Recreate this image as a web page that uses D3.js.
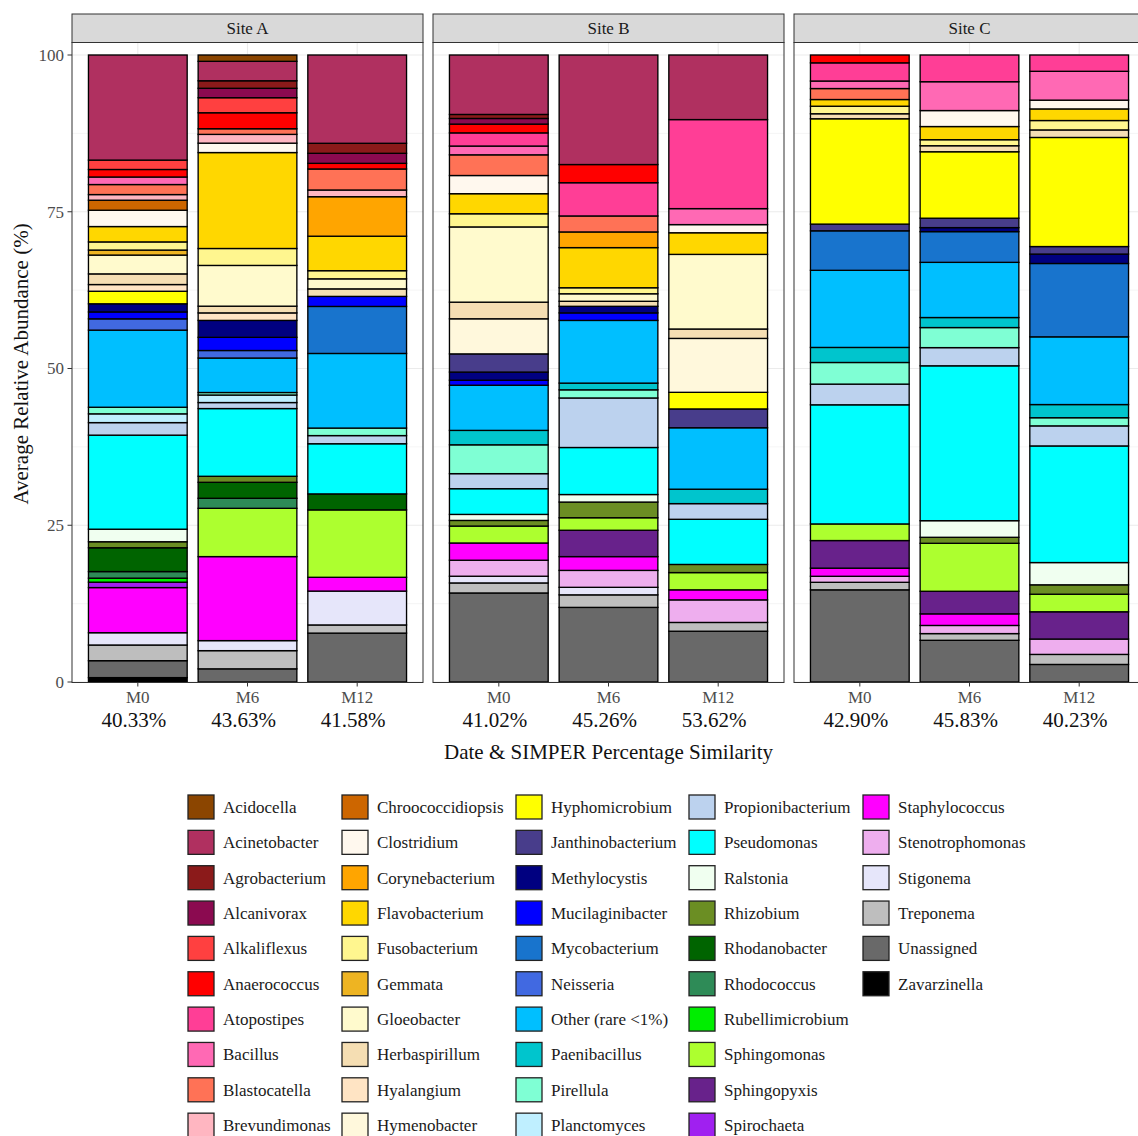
<!DOCTYPE html>
<html>
<head>
<meta charset="utf-8">
<script src="https://cdn.jsdelivr.net/npm/d3@7"></script>
<style>
  body { margin: 0; background: #fff; }
  text { font-family: "Liberation Serif", "Times New Roman", serif; }
</style>
</head>
<body>
<svg id="chart" width="1138" height="1136"></svg>
<script>
// Genera in legend / stacking order (first = top of each bar)
const taxa = [
  "Acidocella", "Acinetobacter", "Agrobacterium", "Alcanivorax", "Alkaliflexus",
  "Anaerococcus", "Atopostipes", "Bacillus", "Blastocatella", "Brevundimonas",
  "Chroococcidiopsis", "Clostridium", "Corynebacterium", "Flavobacterium", "Fusobacterium",
  "Gemmata", "Gloeobacter", "Herbaspirillum", "Hyalangium", "Hymenobacter",
  "Hyphomicrobium", "Janthinobacterium", "Methylocystis", "Mucilaginibacter", "Mycobacterium",
  "Neisseria", "Other (rare <1%)", "Paenibacillus", "Pirellula", "Planctomyces",
  "Propionibacterium", "Pseudomonas", "Ralstonia", "Rhizobium", "Rhodanobacter",
  "Rhodococcus", "Rubellimicrobium", "Sphingomonas", "Sphingopyxis", "Spirochaeta",
  "Staphylococcus", "Stenotrophomonas", "Stigonema", "Treponema", "Unassigned",
  "Zavarzinella"
];

const taxonColors = [
  "#8B4500", "#B03060", "#8B1A1A", "#8B0A50", "#FF4040",
  "#FF0000", "#FF3E96", "#FF69B4", "#FF7256", "#FFB6C1",
  "#CD6600", "#FFF8EE", "#FFA500", "#FFD700", "#FFF68F",
  "#EEB422", "#FFFACD", "#F5DEB3", "#FFE4C4", "#FFF8DC",
  "#FFFF00", "#483D8B", "#000080", "#0000FF", "#1874CD",
  "#4169E1", "#00BFFF", "#00C5CD", "#7FFFD4", "#BFEFFF",
  "#BCD2EE", "#00FFFF", "#F0FFF0", "#6B8E23", "#006400",
  "#2E8B57", "#00EE00", "#ADFF2F", "#68228B", "#A020F0",
  "#FF00FF", "#EEAEEE", "#E6E6FA", "#BEBEBE", "#696969",
  "#000000"
];

const sites = ["Site A", "Site B", "Site C"];
const months = ["M0", "M6", "M12"];
const yTicks = [0, 25, 50, 75, 100];

// SIMPER percentage similarity per site, by month
const similarityA = ["40.33%", "43.63%", "41.58%"];
const similarityB = ["41.02%", "45.26%", "53.62%"];
const similarityC = ["42.90%", "45.83%", "40.23%"];

// Average relative abundance (%) per site and month
const siteA_M0 = {
  "Acinetobacter": 16.76, "Alkaliflexus": 1.5, "Anaerococcus": 1.2, "Bacillus": 1.2,
  "Blastocatella": 1.6, "Brevundimonas": 0.9, "Chroococcidiopsis": 1.6, "Clostridium": 2.6,
  "Flavobacterium": 2.45, "Fusobacterium": 1.3, "Gemmata": 0.8, "Gloeobacter": 3.0,
  "Herbaspirillum": 1.7, "Hyalangium": 1.07, "Hyphomicrobium": 2.0, "Methylocystis": 1.3,
  "Mucilaginibacter": 1.1, "Neisseria": 1.8, "Other (rare <1%)": 12.3, "Pirellula": 1.05,
  "Planctomyces": 1.4, "Propionibacterium": 2.0, "Pseudomonas": 15.0, "Ralstonia": 2.0,
  "Rhizobium": 0.96, "Rhodanobacter": 3.8, "Rhodococcus": 1.05, "Rubellimicrobium": 0.64,
  "Spirochaeta": 0.86, "Staphylococcus": 7.2, "Stigonema": 1.96, "Treponema": 2.5,
  "Unassigned": 2.7, "Zavarzinella": 0.7
};
const siteA_M6 = {
  "Acidocella": 1.01, "Acinetobacter": 3.1, "Agrobacterium": 1.2, "Alcanivorax": 1.5,
  "Alkaliflexus": 2.4, "Anaerococcus": 2.55, "Blastocatella": 0.9, "Brevundimonas": 1.4,
  "Clostridium": 1.5, "Flavobacterium": 15.3, "Fusobacterium": 2.7, "Gloeobacter": 6.5,
  "Herbaspirillum": 1.07, "Hyalangium": 1.2, "Methylocystis": 2.7, "Mucilaginibacter": 2.1,
  "Neisseria": 1.2, "Other (rare <1%)": 5.5, "Pirellula": 0.4, "Planctomyces": 1.2,
  "Propionibacterium": 0.96, "Pseudomonas": 10.8, "Rhizobium": 0.96, "Rhodanobacter": 2.55,
  "Rhodococcus": 1.6, "Sphingomonas": 7.7, "Staphylococcus": 13.4, "Stigonema": 1.6,
  "Treponema": 2.9, "Unassigned": 2.1
};
const siteA_M12 = {
  "Acinetobacter": 14.08, "Agrobacterium": 1.6, "Alcanivorax": 1.6, "Anaerococcus": 0.9,
  "Blastocatella": 3.35, "Brevundimonas": 1.07, "Corynebacterium": 6.3, "Flavobacterium": 5.5,
  "Fusobacterium": 1.3, "Gloeobacter": 1.6, "Herbaspirillum": 1.2, "Mucilaginibacter": 1.6,
  "Mycobacterium": 7.5, "Other (rare <1%)": 11.9, "Pirellula": 1.2, "Propionibacterium": 1.3,
  "Pseudomonas": 8.0, "Rhodanobacter": 2.55, "Sphingomonas": 10.75, "Staphylococcus": 2.2,
  "Stigonema": 5.4, "Treponema": 1.3, "Unassigned": 7.8
};
const siteB_M0 = {
  "Acinetobacter": 9.48, "Agrobacterium": 0.64, "Alcanivorax": 0.9, "Anaerococcus": 1.4,
  "Atopostipes": 2.1, "Bacillus": 1.4, "Blastocatella": 3.3, "Clostridium": 2.9,
  "Flavobacterium": 3.2, "Fusobacterium": 2.1, "Gloeobacter": 12.0, "Herbaspirillum": 2.65,
  "Hymenobacter": 5.6, "Janthinobacterium": 2.9, "Methylocystis": 1.3, "Mucilaginibacter": 0.8,
  "Other (rare <1%)": 7.2, "Paenibacillus": 2.3, "Pirellula": 4.6, "Propionibacterium": 2.4,
  "Pseudomonas": 4.1, "Ralstonia": 0.96, "Rhizobium": 0.9, "Sphingomonas": 2.7,
  "Staphylococcus": 2.75, "Stenotrophomonas": 2.55, "Stigonema": 1.07, "Treponema": 1.6,
  "Unassigned": 14.2
};
const siteB_M6 = {
  "Acinetobacter": 17.47, "Anaerococcus": 2.9, "Atopostipes": 5.3, "Blastocatella": 2.55,
  "Corynebacterium": 2.5, "Flavobacterium": 6.4, "Fusobacterium": 0.96, "Gloeobacter": 1.2,
  "Herbaspirillum": 0.8, "Methylocystis": 1.05, "Mucilaginibacter": 1.2, "Other (rare <1%)": 10.0,
  "Paenibacillus": 1.07, "Pirellula": 1.3, "Propionibacterium": 7.9, "Pseudomonas": 7.5,
  "Ralstonia": 1.2, "Rhizobium": 2.5, "Sphingomonas": 2.0, "Sphingopyxis": 4.2,
  "Staphylococcus": 2.2, "Stenotrophomonas": 2.7, "Stigonema": 1.2, "Treponema": 2.0,
  "Unassigned": 11.9
};
const siteB_M12 = {
  "Acinetobacter": 10.3, "Atopostipes": 14.2, "Bacillus": 2.55, "Clostridium": 1.3,
  "Flavobacterium": 3.45, "Gloeobacter": 11.9, "Herbaspirillum": 1.5, "Hymenobacter": 8.6,
  "Hyphomicrobium": 2.65, "Janthinobacterium": 3.0, "Other (rare <1%)": 9.8, "Paenibacillus": 2.3,
  "Propionibacterium": 2.5, "Pseudomonas": 7.2, "Rhizobium": 1.3, "Sphingomonas": 2.75,
  "Staphylococcus": 1.6, "Stenotrophomonas": 3.6, "Treponema": 1.4, "Unassigned": 8.1
};
const siteC_M0 = {
  "Anaerococcus": 1.25, "Atopostipes": 2.9, "Bacillus": 1.2, "Blastocatella": 1.75,
  "Flavobacterium": 1.07, "Fusobacterium": 1.2, "Herbaspirillum": 0.8, "Hyphomicrobium": 16.8,
  "Janthinobacterium": 1.07, "Mycobacterium": 6.3, "Other (rare <1%)": 12.3, "Paenibacillus": 2.4,
  "Pirellula": 3.45, "Propionibacterium": 3.3, "Pseudomonas": 19.0, "Sphingomonas": 2.65,
  "Sphingopyxis": 4.4, "Staphylococcus": 1.3, "Stenotrophomonas": 0.96, "Treponema": 1.2,
  "Unassigned": 14.7
};
const siteC_M6 = {
  "Atopostipes": 4.26, "Bacillus": 4.6, "Clostridium": 2.55, "Flavobacterium": 2.1,
  "Fusobacterium": 0.96, "Herbaspirillum": 0.96, "Hyphomicrobium": 10.6, "Janthinobacterium": 1.5,
  "Methylocystis": 0.64, "Mycobacterium": 4.9, "Other (rare <1%)": 8.8, "Paenibacillus": 1.6,
  "Pirellula": 3.2, "Propionibacterium": 2.9, "Pseudomonas": 24.7, "Ralstonia": 2.65,
  "Rhizobium": 0.96, "Sphingomonas": 7.65, "Sphingopyxis": 3.6, "Staphylococcus": 1.85,
  "Stenotrophomonas": 1.3, "Treponema": 1.07, "Unassigned": 6.65
};
const siteC_M12 = {
  "Atopostipes": 2.6, "Bacillus": 4.6, "Clostridium": 1.4, "Flavobacterium": 1.85,
  "Fusobacterium": 1.5, "Herbaspirillum": 1.2, "Hyphomicrobium": 17.4, "Janthinobacterium": 1.2,
  "Methylocystis": 1.5, "Mycobacterium": 11.7, "Other (rare <1%)": 10.8, "Paenibacillus": 2.1,
  "Pirellula": 1.3, "Propionibacterium": 3.2, "Pseudomonas": 18.6, "Ralstonia": 3.55,
  "Rhizobium": 1.5, "Sphingomonas": 2.8, "Sphingopyxis": 4.35, "Stenotrophomonas": 2.45,
  "Treponema": 1.6, "Unassigned": 2.8
};

const siteBars = {
  "Site A": [siteA_M0, siteA_M6, siteA_M12],
  "Site B": [siteB_M0, siteB_M6, siteB_M12],
  "Site C": [siteC_M0, siteC_M6, siteC_M12]
};
const siteSimilarity = { "Site A": similarityA, "Site B": similarityB, "Site C": similarityC };

// ---- layout ----
const svg = d3.select("#chart");
const panelW = 351, panelGap = 10, panelX0 = 72;
const stripTop = 14, panelTop = 42.5, panelBottom = 682.5;
const axisGrey = "#4D4D4D", frame = "#333333";

const y = d3.scaleLinear().domain([0, 100]).range([682, 55]);
const color = d3.scaleOrdinal().domain(taxa).range(taxonColors);
const x = d3.scaleBand().domain(months).range([0, panelW]).paddingInner(0.1).paddingOuter(0.15);

// bottom-up stacking so the last genus sits on the baseline
const stack = d3.stack()
  .keys(taxa.slice().reverse())
  .value((d, k) => d[k] || 0);

sites.forEach((site, i) => {
  const g = svg.append("g").attr("transform", `translate(${panelX0 + i * (panelW + panelGap)},0)`);

  // strip
  g.append("rect")
    .attr("x", 0).attr("y", stripTop)
    .attr("width", panelW).attr("height", panelTop - stripTop)
    .attr("fill", "#D9D9D9").attr("stroke", frame).attr("stroke-width", 1);
  g.append("text")
    .attr("x", panelW / 2).attr("y", (stripTop + panelTop) / 2)
    .attr("dy", "0.35em").attr("text-anchor", "middle")
    .attr("font-size", 17).attr("fill", "#1A1A1A")
    .text(site);

  // panel background and grid
  g.append("rect")
    .attr("x", 0).attr("y", panelTop)
    .attr("width", panelW).attr("height", panelBottom - panelTop)
    .attr("fill", "#fff");
  const minor = d3.range(12.5, 100, 25);
  g.selectAll(".gmin").data(minor).join("line")
    .attr("x1", 0).attr("x2", panelW)
    .attr("y1", d => y(d)).attr("y2", d => y(d))
    .attr("stroke", "#F2F2F2").attr("stroke-width", 0.8);
  g.selectAll(".gmaj").data(yTicks).join("line")
    .attr("x1", 0).attr("x2", panelW)
    .attr("y1", d => y(d)).attr("y2", d => y(d))
    .attr("stroke", "#EBEBEB").attr("stroke-width", 1.1);
  g.selectAll(".gv").data(months).join("line")
    .attr("x1", d => x(d) + x.bandwidth() / 2).attr("x2", d => x(d) + x.bandwidth() / 2)
    .attr("y1", panelTop).attr("y2", panelBottom)
    .attr("stroke", "#EBEBEB").attr("stroke-width", 1.1);

  // stacked bars
  const rows = siteBars[site].map((v, j) => Object.assign({ month: months[j] }, v));
  const series = stack(rows);
  series.forEach(s => {
    g.append("g").selectAll("rect")
      .data(s.filter(d => d[1] - d[0] > 0))
      .join("rect")
      .attr("x", d => x(d.data.month))
      .attr("width", x.bandwidth())
      .attr("y", d => y(d[1]))
      .attr("height", d => y(d[0]) - y(d[1]))
      .attr("fill", color(s.key))
      .attr("stroke", "#000")
      .attr("stroke-width", 1.35);
  });

  // panel frame
  g.append("rect")
    .attr("x", 0).attr("y", panelTop)
    .attr("width", panelW).attr("height", panelBottom - panelTop)
    .attr("fill", "none").attr("stroke", frame).attr("stroke-width", 1);

  // x axis ticks and labels
  g.selectAll(".xt").data(months).join("line")
    .attr("x1", d => x(d) + x.bandwidth() / 2).attr("x2", d => x(d) + x.bandwidth() / 2)
    .attr("y1", panelBottom).attr("y2", panelBottom + 4)
    .attr("stroke", frame).attr("stroke-width", 1);
  g.selectAll(".xl").data(months).join("text")
    .attr("x", d => x(d) + x.bandwidth() / 2).attr("y", 703)
    .attr("text-anchor", "middle").attr("font-size", 17).attr("fill", axisGrey)
    .text(d => d);
  g.selectAll(".xs").data(siteSimilarity[site]).join("text")
    .attr("x", (d, j) => x(months[j]) + x.bandwidth() / 2 - 4).attr("y", 727)
    .attr("text-anchor", "middle").attr("font-size", 21).attr("fill", "#111")
    .text(d => d);

  // y axis on first panel only
  if (i === 0) {
    g.selectAll(".yt").data(yTicks).join("line")
      .attr("x1", -4.5).attr("x2", 0)
      .attr("y1", d => y(d)).attr("y2", d => y(d))
      .attr("stroke", frame).attr("stroke-width", 1);
    g.selectAll(".yl").data(yTicks).join("text")
      .attr("x", -8).attr("y", d => y(d)).attr("dy", "0.35em")
      .attr("text-anchor", "end").attr("font-size", 17).attr("fill", axisGrey)
      .text(d => d);
  }
});

// axis titles
svg.append("text")
  .attr("transform", "translate(28,364) rotate(-90)")
  .attr("text-anchor", "middle").attr("font-size", 21).attr("fill", "#111")
  .text("Average Relative Abundance (%)");
svg.append("text")
  .attr("x", panelX0 + panelW + panelGap + panelW / 2).attr("y", 759)
  .attr("text-anchor", "middle").attr("font-size", 21).attr("fill", "#111")
  .text("Date & SIMPER Percentage Similarity");

// legend: 10 rows, filled column by column
const legendRows = 10;
const legendColX = [188, 342, 516, 689, 863];
const legend = svg.append("g");
taxa.forEach((t, k) => {
  const col = Math.floor(k / legendRows), row = k % legendRows;
  const lx = legendColX[col], ly = 795 + row * 35.35;
  legend.append("rect")
    .attr("x", lx).attr("y", ly).attr("width", 26).attr("height", 24)
    .attr("fill", color(t)).attr("stroke", "#222").attr("stroke-width", 1.3);
  legend.append("text")
    .attr("x", lx + 35).attr("y", ly + 12).attr("dy", "0.35em")
    .attr("font-size", 17).attr("fill", "#1A1A1A")
    .text(t);
});
</script>
</body>
</html>
